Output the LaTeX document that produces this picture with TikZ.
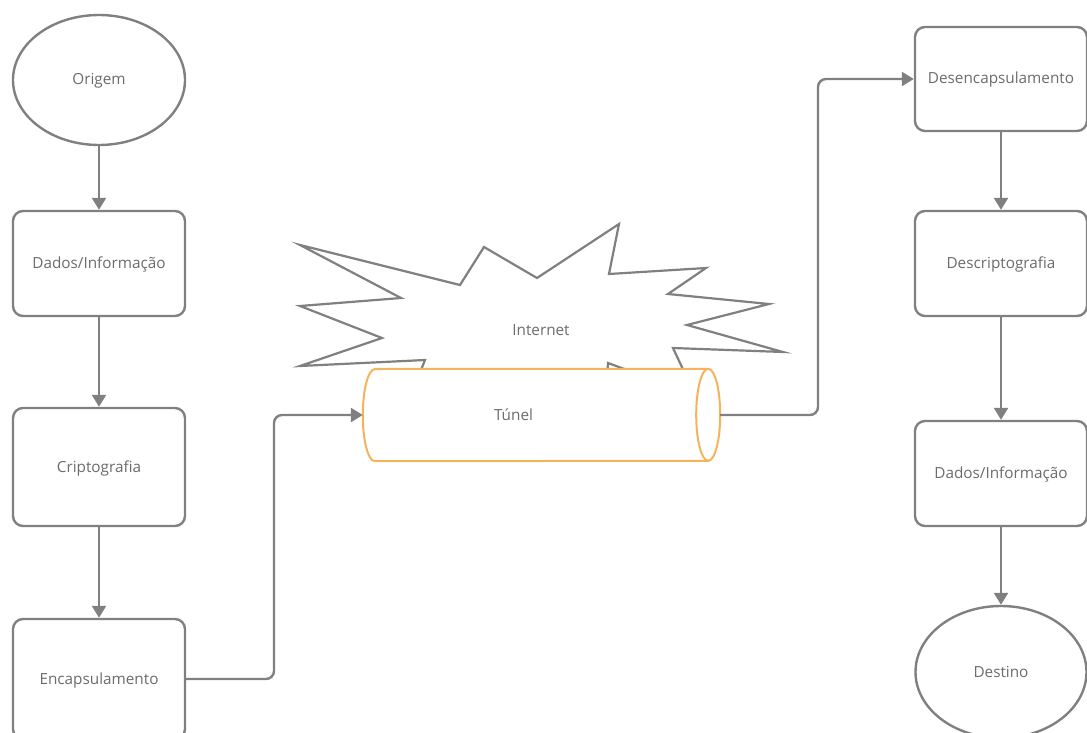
\documentclass[tikz,border=0pt]{standalone}
\usepackage{fontspec}
\setmainfont{Open Sans}
\usetikzlibrary{arrows.meta,shapes.geometric}

\definecolor{lijngrijs}{RGB}{128,128,128}
\definecolor{tekstgrijs}{RGB}{108,108,108}
\definecolor{buisoranje}{RGB}{247,178,92}

\tikzstyle{tekst} = [text=tekstgrijs, font=\fontsize{15.3}{18}\selectfont, text height=12pt, text depth=2pt]
\tikzstyle{blok} = [tekst, draw=lijngrijs, line width=2.4pt, rounded corners=10pt, fill=white, minimum width=172pt, inner sep=0pt]
\tikzstyle{eind} = [tekst, ellipse, draw=lijngrijs, line width=2.4pt, fill=white, minimum width=172pt, minimum height=130pt, inner sep=0pt]
\tikzstyle{pijl} = [draw=lijngrijs, line width=2.4pt, -{Triangle[length=12pt,width=14pt]}]
\tikzstyle{buis} = [minimum width=357pt, minimum height=92pt, inner sep=0pt]
\tikzstyle{buisrand} = [draw=buisoranje, line width=2pt]
\tikzstyle{ster} = [draw=lijngrijs, line width=2.2pt, fill=white]

\begin{document}
\begin{tikzpicture}[x=1pt, y=-1pt]
\useasboundingbox (0,0) rectangle (1087,733);
\clip (0,0) rectangle (1087,733);
%begin kolom-origem
\node[eind] (origem) at (99,80) {Origem};
\node[blok, minimum height=105pt] (dados1) at (99,263.5) {Dados/Informação};
\node[blok, minimum height=118pt] (cripto) at (99,467) {Criptografia};
\node[blok, minimum height=120pt] (encaps) at (99,679) {Encapsulamento};
%end kolom-origem
%begin internet
\draw[ster] (300,245) -- (460,285) -- (484,247) -- (537,278) -- (619,224)
    -- (609,274) -- (706,268) -- (668,294) -- (769,304) -- (687,325)
    -- (783,352) -- (673,348) -- (695,395) -- (608,363) -- (606,395)
    -- (415,385) -- (425,360) -- (300,366) -- (382,338) -- (300,306)
    -- (401,298) -- cycle;
\node[tekst] (internet) at (541,330) {Internet};
%end internet
%begin tunel
\node[buis] (tunel) at (541.5,415) {};
\draw[buisrand, fill=white] ([xshift=12pt]tunel.north west) -- ([xshift=-12pt]tunel.north east)
    arc[start angle=90, end angle=-90, x radius=12pt, y radius=46pt]
    -- ([xshift=12pt]tunel.south west)
    arc[start angle=270, end angle=90, x radius=12pt, y radius=46pt] -- cycle;
\draw[buisrand] ([xshift=-12pt]tunel.north east)
    arc[start angle=90, end angle=270, x radius=12pt, y radius=46pt];
\node[tekst] (tuneltekst) at ([xshift=-28pt]tunel.center) {Túnel};
%end tunel
%begin kolom-destino
\node[blok, minimum height=104pt] (desencaps) at (1001,79) {Desencapsulamento};
\node[blok, minimum height=105pt] (descripto) at (1001,263.5) {Descriptografia};
\node[blok, minimum height=105pt] (dados2) at (1001,473.5) {Dados/Informação};
\node[eind, minimum width=171pt, minimum height=132pt] (destino) at (1001,672) {Destino};
%end kolom-destino
%begin pijlen
\coordinate (knik1) at (274,415);
\coordinate (knik2) at (818,79);
\draw[pijl] (origem) -- (dados1);
\draw[pijl] (dados1) -- (cripto);
\draw[pijl] (cripto) -- (encaps);
\draw[pijl, rounded corners=8pt] (encaps.east) -| (knik1) -- (tunel.west);
\draw[pijl, rounded corners=8pt] (tunel.east) -| (knik2) -- (desencaps.west);
\draw[pijl] (desencaps) -- (descripto);
\draw[pijl] (descripto) -- (dados2);
\draw[pijl] (dados2) -- (destino);
%end pijlen
\end{tikzpicture}
\end{document}
